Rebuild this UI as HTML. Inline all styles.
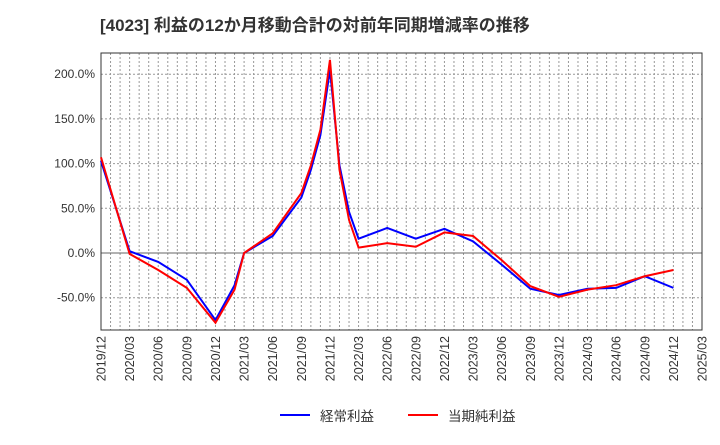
<!DOCTYPE html>
<html><head><meta charset="utf-8"><style>
body{margin:0;background:#fff;font-family:"Liberation Sans","Noto Sans CJK JP",sans-serif;}
</style></head><body>
<svg id="chart" width="720" height="440" xmlns="http://www.w3.org/2000/svg" font-family="Liberation Sans, Noto Sans CJK JP, sans-serif">
<text x="100" y="31" font-size="17" font-weight="bold" fill="#333">[4023]  利益の12か月移動合計の対前年同期増減率の推移</text>
<g id="grid"></g><g id="axes"></g><g id="series"></g>
<g>
<line x1="280" y1="415" x2="310" y2="415" stroke="#0000ff" stroke-width="2"/>
<text x="320" y="421" font-size="13.5" fill="#333">経常利益</text>
<line x1="408" y1="415" x2="438" y2="415" stroke="#ff0000" stroke-width="2"/>
<text x="448" y="421" font-size="13.5" fill="#333">当期純利益</text>
</g>
</svg>
<script>
const months=[0,3,6,9,12,14,15,18,21,22,23,24,25,26,27,30,33,36,39,42,45,48,51,54,57,60];
const keijo=[103,2,-10,-30,-75,-36,0,19,62,93,132,205,98,46,16,28,16,27,13,-13,-40,-47,-40,-39,-26,-39];
const junri=[107,-1,-19,-39,-78,-41,0,22,67,98,138,216,93,37,6,11,7,23,19,-8,-37,-49,-41,-36,-26,-19];
const yTicks=[200,150,100,50,0,-50];
const xTicks=["2019/12","2020/03","2020/06","2020/09","2020/12","2021/03","2021/06","2021/09","2021/12","2022/03","2022/06","2022/09","2022/12","2023/03","2023/06","2023/09","2023/12","2024/03","2024/06","2024/09","2024/12","2025/03"];
const L=101,R=702,T=53,B=330;
const x=m=>L+m*(R-L)/63;
const y=v=>253-v*0.894;
const NS="http://www.w3.org/2000/svg";
function mk(p,t,a){const e=document.createElementNS(NS,t);for(const k in a)e.setAttribute(k,a[k]);p.appendChild(e);return e;}
const g=document.getElementById('grid'),ax=document.getElementById('axes'),s=document.getElementById('series');
for(let m=1;m<63;m++){const l=mk(g,'line',{x1:x(m),x2:x(m),y1:T,y2:B,stroke:'#999','stroke-dasharray':'2,2','stroke-width':1});

}
yTicks.forEach(v=>{const l=mk(g,'line',{x1:L,x2:R,y1:y(v),y2:y(v),stroke:v===0?'#666':'#999','stroke-dasharray':v===0?'none':'2,2','stroke-width':1});


const t=mk(ax,'text',{x:L-6,y:y(v)+4,'text-anchor':'end','font-size':12,fill:'#333'});t.textContent=v.toFixed(1)+'%';

});
xTicks.forEach((lb,i)=>{const xx=x(i*3);const t=mk(ax,'text',{x:xx+4.5,y:B+6,'text-anchor':'end','font-size':12.5,fill:'#333',transform:`rotate(-90 ${xx+4.5} ${B+6})`});t.textContent=lb;

});
const box=mk(ax,'rect',{x:L,y:T,width:R-L,height:B-T,fill:'none',stroke:'#333','stroke-width':1});


function line(vals,col,name){const p=mk(s,'polyline',{points:vals.map((v,i)=>x(months[i])+','+y(v)).join(' '),fill:'none',stroke:col,'stroke-width':2});

}
line(keijo,'#0000ff','keijo-line');
line(junri,'#ff0000','junri-line');
</script>
</body></html>
